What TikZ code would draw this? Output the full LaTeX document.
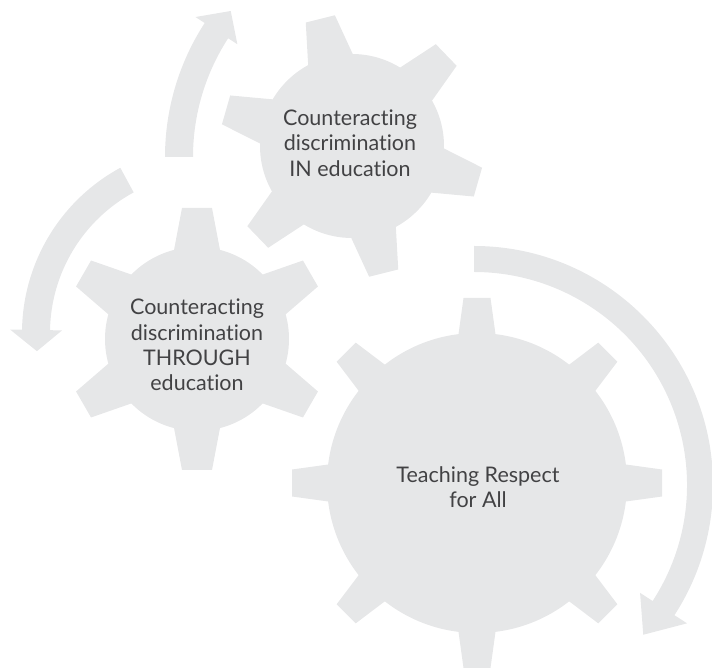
\documentclass[tikz,border=0pt]{standalone}
\usepackage{fontspec}
\setmainfont{Lato}[Ligatures={NoCommon,NoDiscretionary}]
\usepackage{tikz}
\definecolor{gearfill}{RGB}{230,231,232}
\definecolor{geartxt}{RGB}{66,66,68}

\begin{document}
\begin{tikzpicture}[x=1pt,y=1pt,
        gear/.style={fill=gearfill},
        geartext/.style={align=center,text=geartxt,
            font=\fontsize{21.5}{25.4}\selectfont}]
    \useasboundingbox (0,0) rectangle (712,669);

    % Gear IN: body and six teeth
    \fill[gear] (352,523) circle (92);
    \foreach \a in {104,164,...,404}
        \fill[gear,shift={(352,523)},rotate=\a]
            (70,-26.6) -- (131,-15) -- (131,15) -- (70,26.6) -- cycle;

    % Gear THROUGH: body and six teeth
    \fill[gear] (197,330) circle (92);
    \foreach \a in {90,150,...,390}
        \fill[gear,shift={(197,330)},rotate=\a]
            (70,-26.6) -- (131,-15) -- (131,15) -- (70,26.6) -- cycle;

    % Gear Respect: body and eight teeth
    \fill[gear] (477,186) circle (150);
    \foreach \a in {0,45,...,315}
        \fill[gear,shift={(477,186)},rotate=\a]
            (130,-21.1) -- (185,-13.5) -- (185,13.5) -- (130,21.1) -- cycle;

    % Curved arrows: centre, radius, start, head base, tip, half width, head half width
    \foreach \cx/\cy/\rr/\sa/\ba/\ta/\ww/\hh in
            {411/512/232/180/147/141/14/25,
             210/336/174/118.5/179/186/14/26,
             474/184/226/90/-33/-41.5/13/28}
        \fill[gear,shift={(\cx,\cy)}]
            (\sa:{\rr+\ww}) arc[start angle=\sa,end angle=\ba,radius=\rr+\ww]
            -- (\ba:{\rr+\hh}) -- (\ta:\rr) -- (\ba:{\rr-\hh})
            -- (\ba:{\rr-\ww}) arc[start angle=\ba,end angle=\sa,radius=\rr-\ww]
            -- cycle;

    % Labels
    \node[geartext] (gIn) at (350,526) {Counteracting\\discrimination\\IN education};
    \node[geartext] (gThrough) at (197,324) {Counteracting\\discrimination\\THROUGH\\education};
    \node[geartext] (gRespect) at (478,182) {Teaching Respect\\for All};
\end{tikzpicture}
\end{document}
